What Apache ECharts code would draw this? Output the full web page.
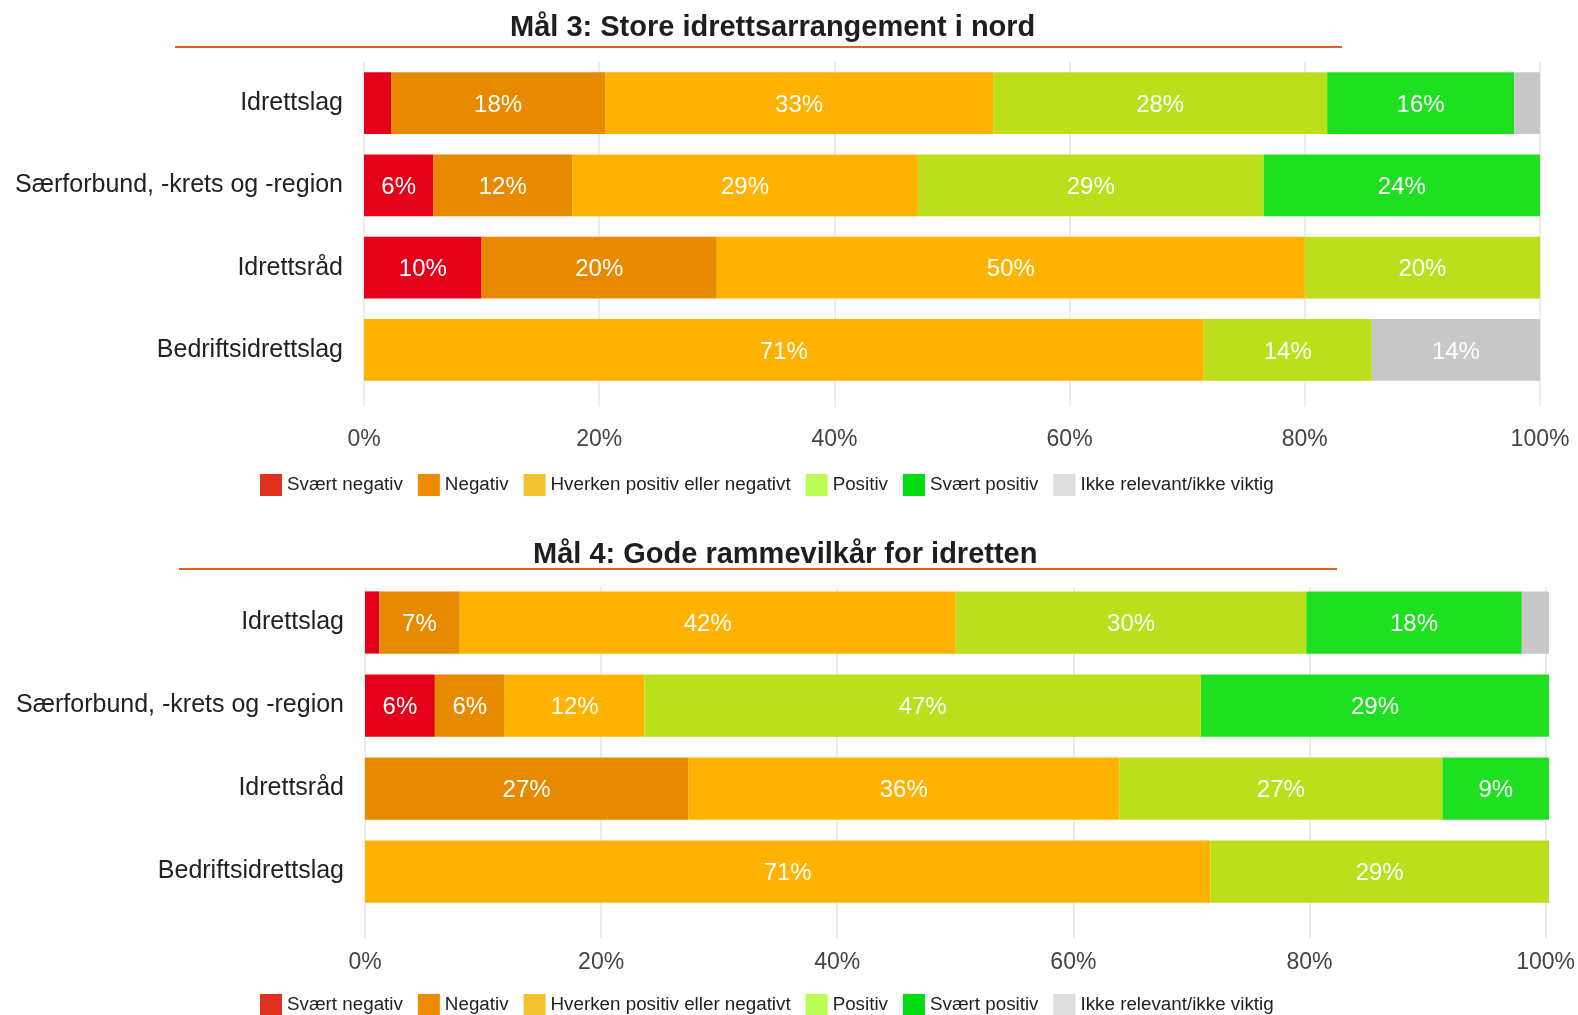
<!DOCTYPE html>
<html>
<head>
<meta charset="utf-8">
<title>Mål 3 og Mål 4</title>
<script src="https://cdn.jsdelivr.net/npm/echarts@6/dist/echarts.min.js"></script>
<style>
    html, body { margin: 0; padding: 0; background: #fff; }
    .chart { width: 1578px; height: 1015px; }
</style>
</head>
<body>
<div class="chart"></div>
<script>
// kategorier og nivåer
const categories = ['Idrettslag', 'Særforbund, -krets og -region', 'Idrettsråd', 'Bedriftsidrettslag'];
const levels = ['Svært negativ', 'Negativ', 'Hverken positiv eller negativt', 'Positiv', 'Svært positiv', 'Ikke relevant/ikke viktig'];
const xTicks = [0, 20, 40, 60, 80, 100];

// Mål 3: Store idrettsarrangement i nord (prosent)
const m3SvaertNegativ = [2.3, 5.9, 10, 0];
const m3Negativ = [18.2, 11.8, 20, 0];
const m3Hverken = [33.0, 29.4, 50, 71.4];
const m3Positiv = [28.4, 29.4, 20, 14.3];
const m3SvaertPositiv = [15.9, 23.5, 0, 0];
const m3IkkeRelevant = [2.2, 0, 0, 14.3];

// Mål 4: Gode rammevilkår for idretten (prosent)
const m4SvaertNegativ = [1.2, 5.9, 0, 0];
const m4Negativ = [6.8, 5.9, 27.3, 0];
const m4Hverken = [41.9, 11.8, 36.4, 71.4];
const m4Positiv = [29.6, 47.0, 27.3, 28.6];
const m4SvaertPositiv = [18.2, 29.4, 9.1, 0];
const m4IkkeRelevant = [2.3, 0, 0, 0];

(function () {
    let myChart = echarts.init(document.querySelector('.chart'));

    // farger på søylene og litt andre farger i tegnforklaringen
    const barColors = ['#e4001b', '#e88a00', '#ffb300', '#bcdf1b', '#1ee020', '#c8c8c8'];
    const legendColors = ['#e0301e', '#ec8a00', '#f2c22e', '#bbff55', '#00dd11', '#dddddd'];
    const font = 'Liberation Sans, Arial, sans-serif';

    const m3 = [m3SvaertNegativ, m3Negativ, m3Hverken, m3Positiv, m3SvaertPositiv, m3IkkeRelevant];
    const m4 = [m4SvaertNegativ, m4Negativ, m4Hverken, m4Positiv, m4SvaertPositiv, m4IkkeRelevant];

    // to diagrammer, hver med et rutenett for linjer og et for søyler
    const charts = [
        { title: 'Mål 3: Store idrettsarrangement i nord', titleLeft: 510, titleTop: 13, lineY: 47, lineX: [175, 1342],
          left: 364, right: 1540, lineTop: 62, lineBottom: 407, barTop: 62, barH: 329, labelMargin: 21, legendTop: 474, data: m3 },
        { title: 'Mål 4: Gode rammevilkår for idretten', titleLeft: 533, titleTop: 540, lineY: 569, lineX: [179, 1337],
          left: 365, right: 1549, lineTop: 587, lineBottom: 938, barTop: 581, barH: 332, labelMargin: 13, legendTop: 994, data: m4 }
    ];

    let option = {
        animation: false,
        backgroundColor: '#fff',
        textStyle: { fontFamily: font },
        title: [], grid: [], xAxis: [], yAxis: [], legend: [], series: [], graphic: []
    };

    charts.forEach(function (c, ci) {
        option.title.push({
            text: c.title, left: c.titleLeft, top: c.titleTop, padding: 0,
            textStyle: { fontSize: 29, fontWeight: 'bold', color: '#1e1e1e', fontFamily: font }
        });
        // oransje strek under tittelen
        option.graphic.push({
            type: 'line', silent: true,
            shape: { x1: c.lineX[0], y1: c.lineY, x2: c.lineX[1], y2: c.lineY },
            style: { stroke: '#e0601c', lineWidth: 2 }
        });

        // rutenett for rutelinjer og aksetekst
        option.grid.push({ left: c.left, width: c.right - c.left, top: c.lineTop, height: c.lineBottom - c.lineTop });
        option.xAxis.push({
            gridIndex: ci * 2, type: 'value', min: xTicks[0], max: xTicks[xTicks.length - 1], interval: xTicks[1] - xTicks[0],
            axisLine: { show: false }, axisTick: { show: false },
            axisLabel: { formatter: '{value}%', fontSize: 23, color: '#444', margin: c.labelMargin },
            splitLine: { lineStyle: { color: '#e6e6e6', width: 1.5 } }
        });
        option.yAxis.push({ gridIndex: ci * 2, type: 'value', show: false });

        // rutenett for søylene
        option.grid.push({ left: c.left, width: c.right - c.left, top: c.barTop, height: c.barH });
        option.xAxis.push({ gridIndex: ci * 2 + 1, type: 'value', min: 0, max: 100, show: false });
        option.yAxis.push({
            gridIndex: ci * 2 + 1, type: 'category', data: categories, inverse: true,
            axisLine: { show: false }, axisTick: { show: false }, splitLine: { show: false },
            axisLabel: { fontSize: 25, color: '#222', margin: 21, padding: [8, 0, 0, 0] }
        });

        levels.forEach(function (name, li) {
            option.series.push({
                name: name, type: 'bar', stack: 'stack' + ci,
                xAxisIndex: ci * 2 + 1, yAxisIndex: ci * 2 + 1,
                barCategoryGap: '25%',
                itemStyle: { color: barColors[li] },
                label: {
                    show: true, position: 'inside', color: '#fff', fontSize: 24, offset: [0, 2],
                    formatter: function (p) { return p.value >= 5 ? Math.round(p.value) + '%' : ''; }
                },
                data: c.data[li]
            });
        });

        // tegnforklaring
        option.legend.push({
            left: 260, top: c.legendTop, itemWidth: 22, itemHeight: 22, itemGap: 15, icon: 'rect',
            selectedMode: false, padding: 0,
            textStyle: { fontSize: 18.8, color: '#222' },
            data: levels.map(function (name, li) {
                return { name: name, itemStyle: { color: legendColors[li] } };
            })
        });
    });

    myChart.setOption(option);

    window.addEventListener('resize', function () {
        myChart.resize();
    });
})();
</script>
</body>
</html>
